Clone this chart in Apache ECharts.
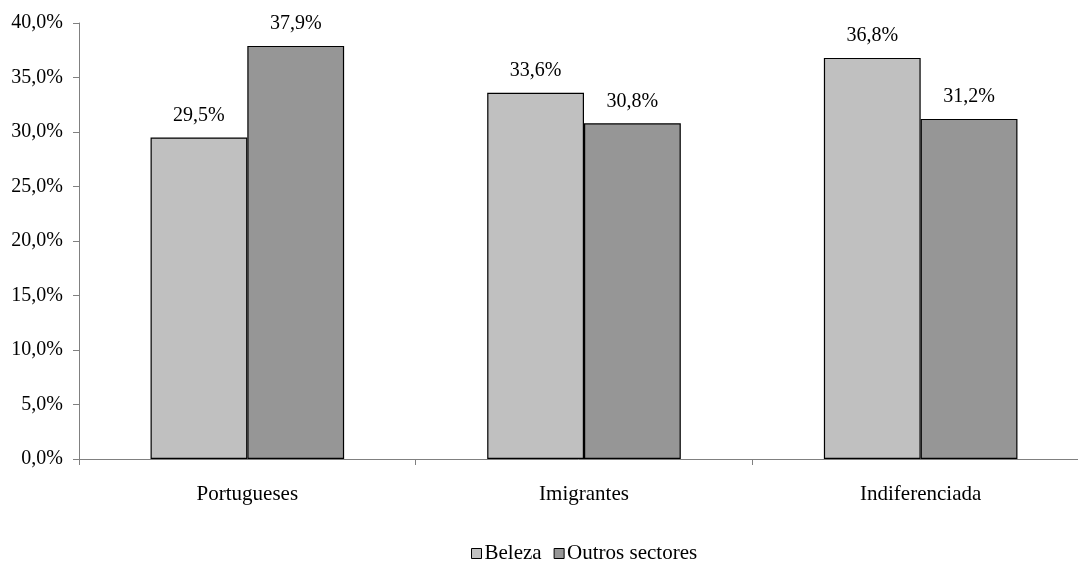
<!DOCTYPE html>
<html>
<head>
<meta charset="utf-8">
<script src="https://cdn.jsdelivr.net/npm/echarts@6/dist/echarts.min.js"></script>
<style>
  html, body { margin: 0; padding: 0; background: #fff; }
  #chart { width: 1078px; height: 561px; }
</style>
</head>
<body>
<div id="chart"></div>
<script>
// Share of respondents by origin group, beauty sector vs other sectors
const categories = ['Portugueses', 'Imigrantes', 'Indiferenciada'];
const seriesNames = ['Beleza', 'Outros sectores'];
const beleza = [29.5, 33.6, 36.8];
const outros = [37.9, 30.8, 31.2];
const yTicks = { min: 0, max: 40, interval: 5 };

const FONT = "'Liberation Serif', 'Times New Roman', serif";
const fmt = v => v.toFixed(1).replace('.', ',') + '%';

const chart = echarts.init(document.getElementById('chart'), null, { renderer: 'canvas' });

const barLabel = {
  show: true,
  position: 'top',
  distance: 12,
  fontFamily: FONT,
  fontSize: 20,
  color: '#000',
  formatter: p => fmt(p.value)
};

chart.setOption({
  animation: false,
  backgroundColor: '#fff',
  // plot area runs slightly past the right edge of the canvas
  grid: { left: 79, width: 1010, top: 23, bottom: 102, containLabel: false, outerBoundsMode: 'none' },
  legend: {
    top: 538,
    left: 466,
    itemWidth: 10,
    itemHeight: 10,
    itemGap: 12,
    icon: 'rect',
    textStyle: { fontFamily: FONT, fontSize: 21, color: '#000', padding: [0, 0, 0, -2] },
    data: seriesNames.map(n => ({
      name: n,
      itemStyle: { borderColor: '#000', borderWidth: 1 }
    }))
  },
  xAxis: {
    type: 'category',
    data: categories,
    axisLine: { lineStyle: { color: '#808080', width: 1 } },
    axisTick: { show: true, length: 6, inside: false, lineStyle: { color: '#808080' } },
    axisLabel: { fontFamily: FONT, fontSize: 21, color: '#000', margin: 25 }
  },
  yAxis: {
    type: 'value',
    min: yTicks.min,
    max: yTicks.max,
    interval: yTicks.interval,
    axisLine: { show: true, lineStyle: { color: '#808080', width: 1 } },
    axisTick: { show: true, length: 6, lineStyle: { color: '#808080' } },
    splitLine: { show: false },
    axisLabel: { fontFamily: FONT, fontSize: 20, color: '#000', margin: 16, formatter: v => fmt(v) }
  },
  series: [
    {
      name: seriesNames[0],
      type: 'bar',
      data: beleza,
      barGap: '0%',
      barCategoryGap: '42.5%',
      itemStyle: { color: '#c0c0c0', borderColor: '#000', borderWidth: 1.2 },
      label: barLabel
    },
    {
      name: seriesNames[1],
      type: 'bar',
      data: outros,
      barGap: '0%',
      barCategoryGap: '42.5%',
      itemStyle: { color: '#969696', borderColor: '#000', borderWidth: 1.2 },
      label: barLabel
    }
  ]
});
</script>
</body>
</html>
